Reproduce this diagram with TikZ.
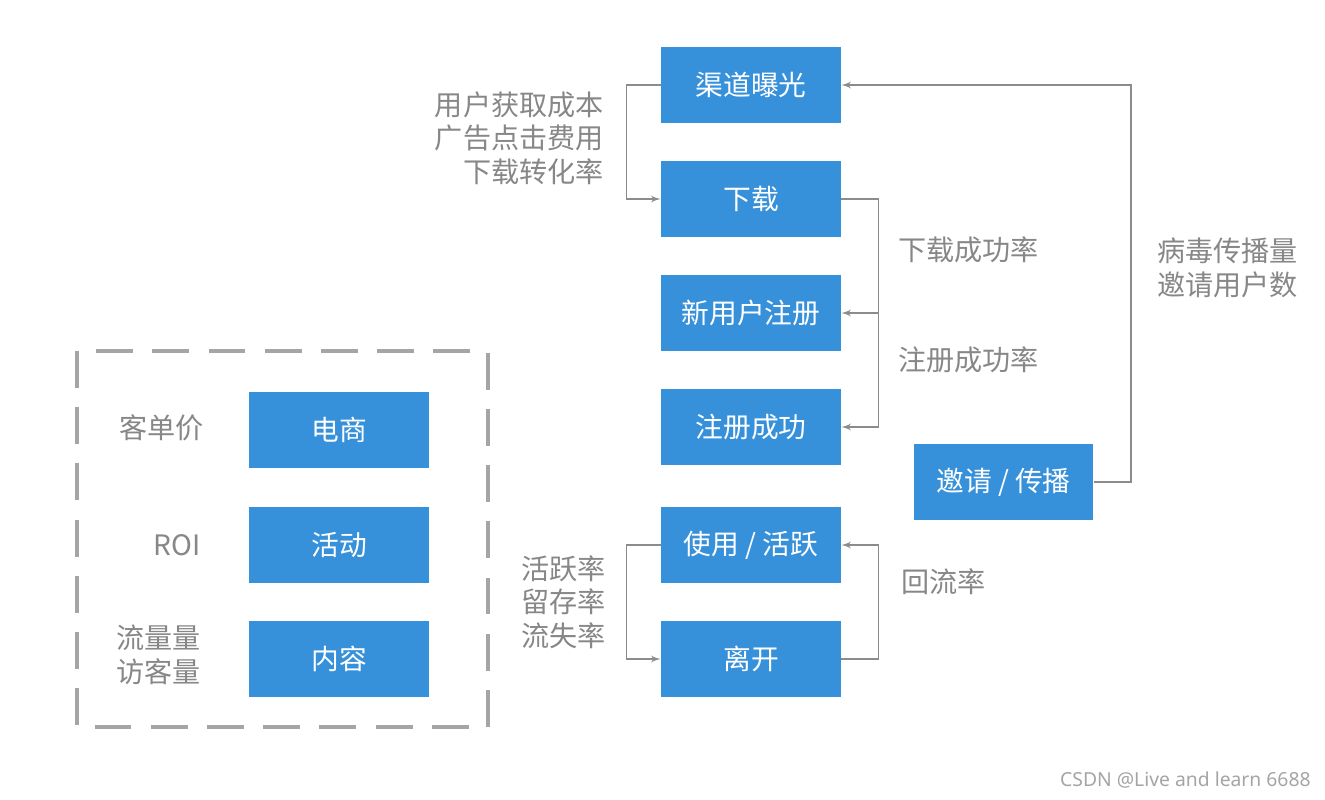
\documentclass[tikz,border=0pt]{standalone}
\usepackage{fontspec}
\setmainfont{Noto Sans CJK SC}
\newfontfamily\wmfont{Noto Sans}
\usetikzlibrary{arrows}
\definecolor{boxblue}{RGB}{55,145,218}
\definecolor{txtgray}{RGB}{135,135,135}
\definecolor{linegray}{RGB}{140,140,140}
\definecolor{dashgray}{RGB}{165,165,165}
\begin{document}
\begin{tikzpicture}[%
    x=0.02cm,
    y=-0.02cm,
    block/.style={
      rectangle,
      draw=none,
      fill=boxblue,
      text=white,
      align=center,
      font=\fontsize{15.8}{19}\selectfont,
      minimum height=1.52cm,
      minimum width=3.6cm
    },
    note/.style={
      inner sep=0pt,
      text=txtgray,
      font=\fontsize{16}{19}\selectfont
    },
    line/.style={
      draw=linegray,
      line width=0.9pt,
      -latex'
    },
    dashbox/.style={
      draw=dashgray,
      line width=2.4pt,
      dash pattern=on 21pt off 11pt
    }
  ]
    \useasboundingbox[fill=white] (0,0) rectangle (1325,799);

    % funnel
    \node[block] (qudao) at (751,85) {渠道曝光};
    \node[block] (xiazai) at (751,199) {下载};
    \node[block] (xinyonghu) at (751,313) {新用户注册};
    \node[block] (zhuce) at (751,427) {注册成功};
    \node[block] (shiyong) at (751,545) {使用 / 活跃};
    \node[block] (likai) at (751,659) {离开};
    \node[block] (yaoqing) at (1003.5,482) {邀请 / 传播};

    % other models
    \draw[dashbox] (77,351) rectangle (488,727);
    \node[block] (dianshang) at (339,430) {电商};
    \node[block] (huodong) at (339,545) {活动};
    \node[block] (neirong) at (339,659) {内容};

    \draw[line] (qudao.west) -- ++(-34,0) |- (xiazai.west);
    \draw[line] (xiazai.east) -- ++(37,0) |- (xinyonghu.east);
    \draw[line] (xiazai.east) -- ++(37,0) |- (zhuce.east);
    \draw[line] (yaoqing.east) -- ++(37,0) |- (qudao.east);
    \draw[line] (likai.east) -- ++(37,0) |- (shiyong.east);
    \draw[line] (shiyong.west) -- ++(-34,0) |- (likai.west);

    \node[note, anchor=east, align=right] (chengben) at (604,138) {用户获取成本\\广告点击费用\\下载转化率};
    \node[note, anchor=west] (xzcgl) at (898,250) {下载成功率};
    \node[note, anchor=west] (zccgl) at (898,360) {注册成功率};
    \node[note, anchor=west, align=left] (bingdu) at (1157,268) {病毒传播量\\邀请用户数};
    \node[note, anchor=west] (huiliu) at (901,582) {回流率};
    \node[note, anchor=east, align=right] (huoyue) at (606,602) {活跃率\\留存率\\流失率};
    \node[note, anchor=east] (kedanjia) at (204,428) {客单价};
    \node[note, anchor=east] (roi) at (201,545) {ROI};
    \node[note, anchor=east, align=right] (liuliang) at (201,655) {流量量\\访客量};

    \node[inner sep=0pt, anchor=east, text=dashgray, font=\wmfont\fontsize{11}{12}\selectfont] (csdn) at (1311,780) {CSDN @Live and learn 6688};
\end{tikzpicture}
\end{document}
